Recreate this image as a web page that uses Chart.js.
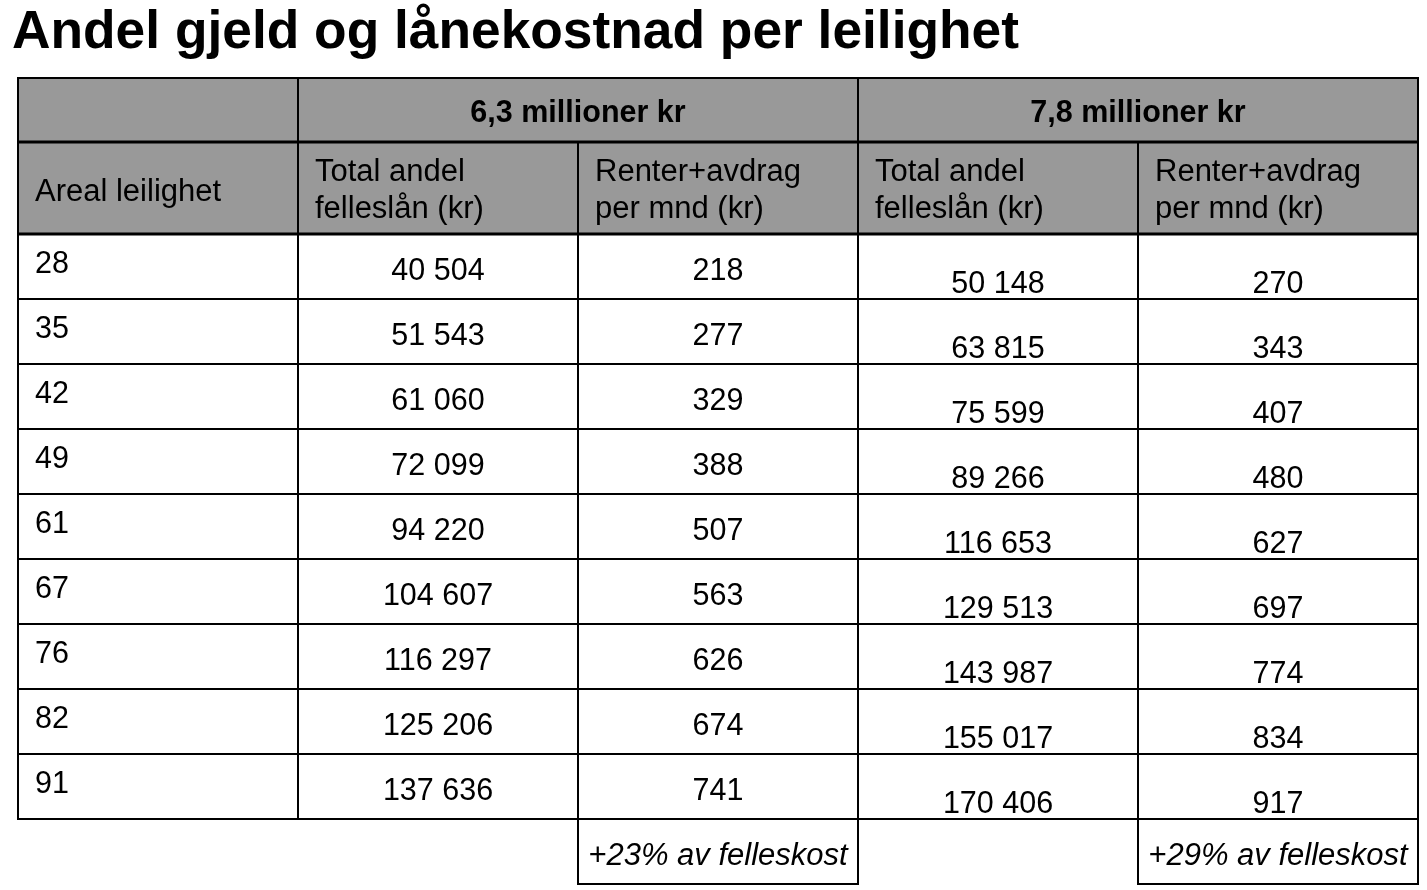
<!DOCTYPE html>
<html>
<head>
<meta charset="utf-8">
<script src="https://cdn.jsdelivr.net/npm/chart.js@4.4.1/dist/chart.umd.min.js"></script>
<style>
  html, body { margin: 0; padding: 0; background: #fff; }
  #wrap { width: 1427px; height: 890px; }
</style>
</head>
<body>
<div id="wrap"><canvas id="tableChart" width="1427" height="890"></canvas></div>
<script>
// table data
const title = "Andel gjeld og lånekostnad per leilighet";
const groupLabels = ["6,3 millioner kr", "7,8 millioner kr"];
const columnLabels = ["Areal leilighet", "Total andel\nfelleslån (kr)", "Renter+avdrag\nper mnd (kr)", "Total andel\nfelleslån (kr)", "Renter+avdrag\nper mnd (kr)"];
const areas = [28, 35, 42, 49, 61, 67, 76, 82, 91];
const loanLow = [40504, 51543, 61060, 72099, 94220, 104607, 116297, 125206, 137636];
const costLow = [218, 277, 329, 388, 507, 563, 626, 674, 741];
const loanHigh = [50148, 63815, 75599, 89266, 116653, 129513, 143987, 155017, 170406];
const costHigh = [270, 343, 407, 480, 627, 697, 774, 834, 917];
const footnotes = ["+23% av felleskost", "+29% av felleskost"];

const FONT = "'Liberation Sans', Arial, Helvetica, sans-serif";

// row layout (y units), header rows are taller than data rows
const headRow1 = 64;
const headRow2 = 92;
const dataRow = 64.9;
const dataTop = headRow1 + headRow2;
const tableBottom = dataTop + areas.length * dataRow;
const yMax = tableBottom + dataRow;

// baseline offset from the top of each data cell, per column
const baseOffset = [39, 46, 46, 59, 59];

function fmt(v) {
    return String(v).replace(/\B(?=(\d{3})+(?!\d))/g, " ");
}

const columns = [areas, loanLow, costLow, loanHigh, costHigh];
const datasets = columns.map((col, c) => ({
    label: "col" + c,
    texts: col.map(fmt),
    data: col.map((v, r) => ({ x: c === 0 ? c + 0.0607 : c + 0.5, y: dataTop + r * dataRow })),
    pointRadius: 0,
    pointHoverRadius: 0
}));

// draws grid, header fill and all cell texts
const tablePlugin = {
    id: "tablePlugin",
    beforeDatasetsDraw(chart) {
        const { ctx } = chart;
        const x = chart.scales.x, y = chart.scales.y;
        const px = v => Math.round(x.getPixelForValue(v));
        const py = v => Math.round(y.getPixelForValue(v));

        ctx.save();
        ctx.fillStyle = "#999999";
        ctx.fillRect(px(0), py(0), px(5) - px(0), py(dataTop) - py(0));

        ctx.strokeStyle = "#000";
        const line = (x1, y1, x2, y2, w) => {
            ctx.lineWidth = w || 2;
            ctx.beginPath();
            ctx.moveTo(x1, y1);
            ctx.lineTo(x2, y2);
            ctx.stroke();
        };
        // horizontal lines
        line(px(0) - 1, py(0), px(5) + 1, py(0));
        line(px(0) - 1, py(headRow1), px(5) + 1, py(headRow1), 3);
        line(px(0) - 1, py(dataTop), px(5) + 1, py(dataTop), 3);
        for (let r = 1; r <= areas.length; r++) {
            const yy = py(dataTop + r * dataRow);
            line(px(0) - 1, yy, px(5) + 1, yy);
        }
        // vertical lines
        [0, 1, 3, 5].forEach(c => line(px(c), py(0), px(c), py(tableBottom)));
        [2, 4].forEach(c => line(px(c), py(headRow1), px(c), py(yMax) + 1));
        [3, 5].forEach(c => line(px(c), py(tableBottom), px(c), py(yMax) + 1));
        [2, 4].forEach(c => line(px(c) - 1, py(yMax), px(c + 1) + 1, py(yMax)));

        ctx.fillStyle = "#000";
        ctx.textBaseline = "alphabetic";

        // group header
        ctx.font = "bold 30.5px " + FONT;
        ctx.textAlign = "center";
        groupLabels.forEach((t, i) => {
            ctx.fillText(t, px(1 + i * 2 + 1), py(0) + 44);
        });

        // column header
        ctx.font = "31px " + FONT;
        ctx.textAlign = "left";
        columnLabels.forEach((t, c) => {
            const lines = t.split("\n");
            const x0 = px(c) + 17;
            if (lines.length === 1) {
                ctx.fillText(lines[0], x0, py(headRow1) + 59);
            } else {
                lines.forEach((l, i) => ctx.fillText(l, x0, py(headRow1) + 39 + i * 37));
            }
        });

        // footnotes
        ctx.font = "italic 31px " + FONT;
        ctx.textAlign = "center";
        footnotes.forEach((t, i) => {
            ctx.fillText(t, px(2 + i * 2 + 0.5), py(tableBottom) + 46, 262);
        });

        // title
        ctx.font = "bold 54px " + FONT;
        ctx.textAlign = "left";
        ctx.fillText(title, 12, 48, 1007);
        ctx.restore();
    },
    afterDatasetsDraw(chart) {
        const { ctx } = chart;
        ctx.save();
        ctx.font = "30.5px " + FONT;
        ctx.fillStyle = "#000";
        ctx.textBaseline = "alphabetic";
        chart.data.datasets.forEach((ds, c) => {
            const meta = chart.getDatasetMeta(c);
            ctx.textAlign = c === 0 ? "left" : "center";
            meta.data.forEach((pt, r) => {
                ctx.fillText(ds.texts[r], pt.x, pt.y + baseOffset[c]);
            });
        });
        ctx.restore();
    }
};

const ctx = document.getElementById("tableChart").getContext("2d");
const tableChart = new Chart(ctx, {
    type: "scatter",
    data: { datasets },
    options: {
        responsive: false,
        animation: false,
        events: [],
        layout: { padding: { left: 18, right: 9, top: 78, bottom: 6 } },
        scales: {
            x: { type: "linear", min: 0, max: 5, display: false },
            y: { type: "linear", min: 0, max: yMax, reverse: true, display: false }
        },
        plugins: {
            legend: { display: false },
            tooltip: { enabled: false }
        }
    },
    plugins: [tablePlugin]
});
</script>
</body>
</html>
